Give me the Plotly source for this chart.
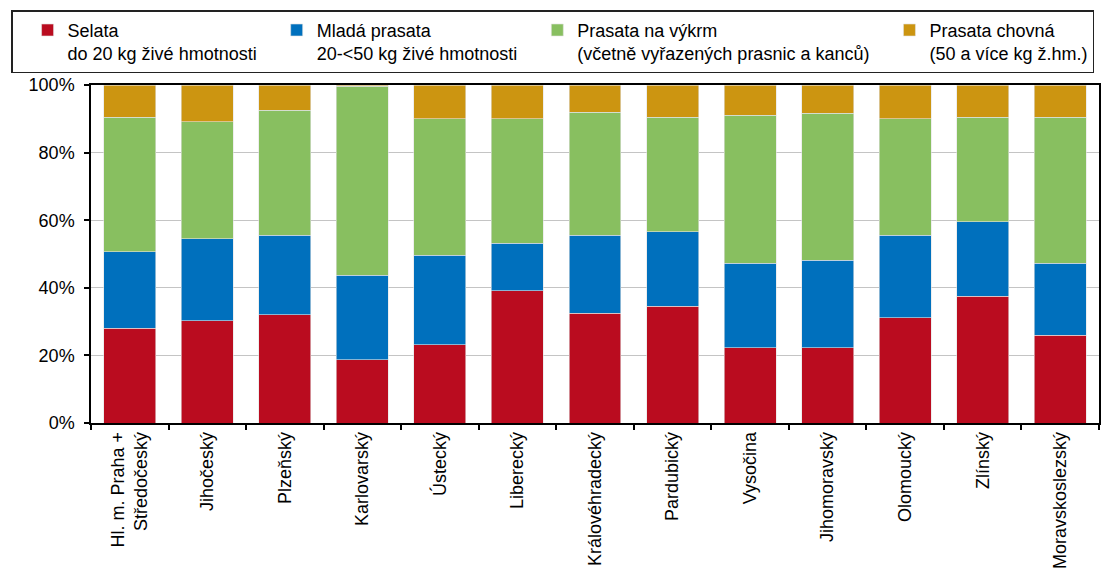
import plotly.graph_objects as go

categories = ["Hl. m. Praha +<br>Středočeský", "Jihočeský", "Plzeňský", "Karlovarský",
              "Ústecký", "Liberecký", "Královéhradecký", "Pardubický", "Vysočina",
              "Jihomoravský", "Olomoucký", "Zlínský", "Moravskoslezský"]

selata = [28.1, 30.2, 32.0, 18.7, 23.1, 39.1, 32.5, 34.5, 22.2, 22.2, 31.1, 37.5, 26.0]
mlada = [22.6, 24.3, 23.5, 25.0, 26.5, 14.1, 23.0, 22.1, 25.0, 26.0, 24.4, 22.1, 21.2]
vykrm = [39.8, 34.6, 37.1, 55.9, 40.4, 36.8, 36.5, 33.9, 43.9, 43.4, 34.5, 30.9, 43.3]
chovna = [9.5, 10.9, 7.4, 0.4, 10.0, 10.0, 8.0, 9.5, 8.9, 8.4, 10.0, 9.5, 9.5]

names = ["Selata<br>do 20 kg živé hmotnosti",
         "Mladá prasata<br>20-<50 kg živé hmotnosti",
         "Prasata na výkrm<br>(včetně vyřazených prasnic a kanců)",
         "Prasata chovná<br>(50 a více kg ž.hm.)"]
colors = ["#BA0C1F", "#0070BD", "#88BF60", "#CC9511"]
series = [selata, mlada, vykrm, chovna]

fig = go.Figure()
for nm, col, vals in zip(names, colors, series):
    fig.add_trace(go.Bar(x=categories, y=vals, name=nm,
                         marker=dict(color=col, line=dict(color="#e3e3e3", width=0.6))))

FONT = "Liberation Sans, Arial, sans-serif"
# The page body adds an 8px offset, so the figure is 8px smaller on each axis.
fig.update_layout(
    width=1111, height=560,
    barmode="stack", bargap=0.33,
    margin=dict(l=83, r=20, t=77, b=145, autoexpand=False),
    paper_bgcolor="white", plot_bgcolor="white",
    font=dict(family=FONT, size=18, color="black"),
    legend=dict(orientation="h", x=-0.0793, y=1.221, xanchor="left", yanchor="top",
                bordercolor="#222222", borderwidth=1.5, valign="top",
                font=dict(family=FONT, size=18, color="black"),
                itemwidth=30, indentation=15, traceorder="normal",
                itemclick=False),
    showlegend=True,
)
fig.update_xaxes(showline=True, linecolor="black", linewidth=1.5, mirror=True,
                 ticks="outside", ticklen=5, tickcolor="black", tickwidth=1.5,
                 tickson="boundaries", tickangle=-90,
                 tickfont=dict(family=FONT, size=18, color="black"))
fig.update_yaxes(range=[0, 100], dtick=20, ticksuffix="%",
                 showline=True, linecolor="black", linewidth=1.5, mirror=True,
                 ticks="outside", ticklen=5, tickcolor="black", tickwidth=1.5,
                 showgrid=True, gridcolor="#c4c4c4", gridwidth=1.2,
                 zeroline=False, ticklabelstandoff=6,
                 tickfont=dict(family=FONT, size=18, color="black"))

fig.write_html("out.html")
